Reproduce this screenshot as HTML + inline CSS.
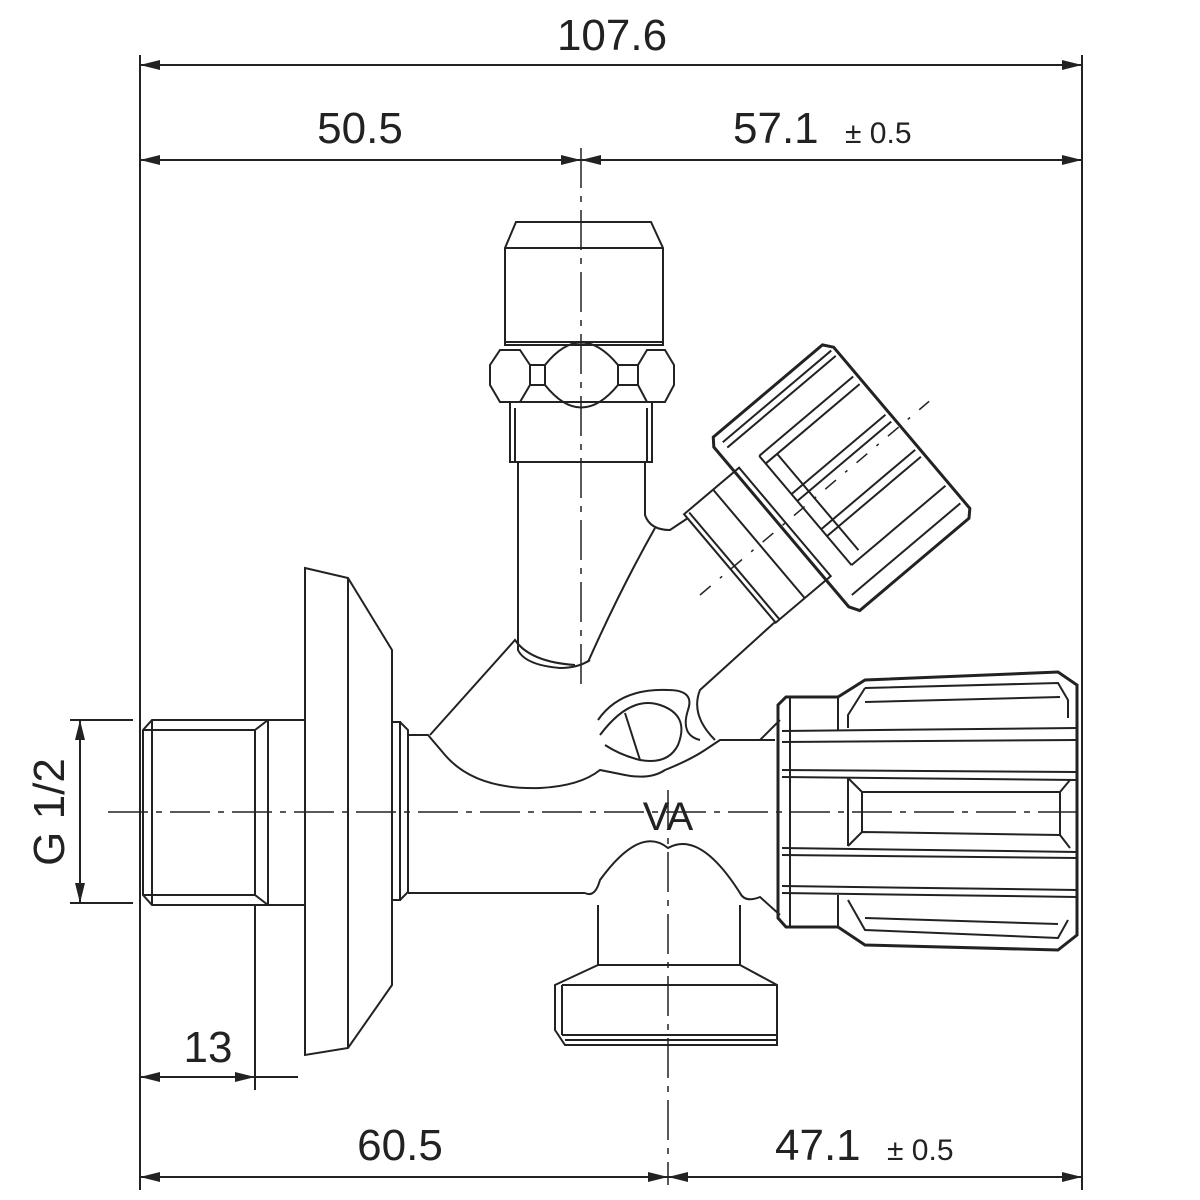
<!DOCTYPE html>
<html><head><meta charset="utf-8"><style>
html,body{margin:0;padding:0;background:#fff;}
svg{display:block}
text{font-family:"Liberation Sans","DejaVu Sans",sans-serif;fill:#222;}
</style></head><body>
<svg width="1200" height="1200" viewBox="0 0 1200 1200" xmlns="http://www.w3.org/2000/svg">
<defs>
<marker id="a" viewBox="0 0 20 10" refX="20" refY="5" markerWidth="20" markerHeight="10" orient="auto-start-reverse" markerUnits="userSpaceOnUse"><path d="M0,0 L20,5 L0,10 z" fill="#222"/></marker>
</defs>
<g stroke="#222" stroke-width="2" fill="none">
<line x1="140" y1="55" x2="140" y2="1190"/>
<line x1="1082" y1="55" x2="1082" y2="1190"/>
<line x1="255" y1="905" x2="255" y2="1090"/>
<line x1="70" y1="720" x2="133" y2="720"/>
<line x1="70" y1="903" x2="133" y2="903"/>
<line x1="140" y1="65" x2="1082" y2="65" marker-start="url(#a)" marker-end="url(#a)"/>
<line x1="140" y1="160" x2="581" y2="160" marker-start="url(#a)" marker-end="url(#a)"/>
<line x1="581" y1="160" x2="1082" y2="160" marker-start="url(#a)" marker-end="url(#a)"/>
<line x1="140" y1="1177" x2="668" y2="1177" marker-start="url(#a)" marker-end="url(#a)"/>
<line x1="668" y1="1177" x2="1082" y2="1177" marker-start="url(#a)" marker-end="url(#a)"/>
<line x1="140" y1="1077" x2="255" y2="1077" marker-start="url(#a)" marker-end="url(#a)"/>
<line x1="255" y1="1077" x2="298" y2="1077"/>
<line x1="80" y1="720" x2="80" y2="903" marker-start="url(#a)" marker-end="url(#a)"/>
<line x1="108" y1="812" x2="1082" y2="812" stroke-dasharray="40,8,6,8" stroke-width="1.5"/>
<line x1="581" y1="148" x2="581" y2="685" stroke-dasharray="40,8,6,8" stroke-width="1.5"/>
<line x1="668" y1="790" x2="668" y2="1185" stroke-dasharray="40,8,6,8" stroke-width="1.5"/>

<path d="M152,720 L268,720 L268,905 L152,905 L143,895 L143,730 Z"/>
<line x1="152" y1="720" x2="152" y2="905"/>
<line x1="143" y1="730" x2="255" y2="730"/><line x1="143" y1="895" x2="255" y2="895"/>
<line x1="255" y1="730" x2="255" y2="895"/>
<line x1="255" y1="730" x2="268" y2="720"/><line x1="255" y1="895" x2="268" y2="905"/>
<line x1="268" y1="720" x2="305" y2="720"/><line x1="268" y1="905" x2="305" y2="905"/>
<path d="M305,568 L348,578 L392,650 L392,985 L348,1048 L305,1055 Z"/>
<line x1="348" y1="578" x2="348" y2="1048"/>
<path d="M392,722 L400,722 L400,900 L392,900"/>
<path d="M400,722 L408,730 L408,892 L400,900"/>
<path d="M408,735 L428,735 L445,755 Q475,790 540,788 Q580,786 600,770 L625,775 Q650,780 665,770 Q690,760 705,750 L720,740 L775,740"/>
<path d="M430,735 L515,640 Q530,662 575,665"/>
<line x1="408" y1="893" x2="585" y2="893"/>
<path d="M585,893 Q595,898 600,880 Q640,825 668,848 Q700,830 740,893 Q745,903 760,897 L780,915"/>
<line x1="760" y1="740" x2="780" y2="720"/>
<path d="M598,720 Q620,688 668,690 Q695,690 688,710 Q680,735 700,740"/>
<path d="M600,735 Q630,695 660,705 Q690,715 678,745 Q668,765 640,760 Q620,755 605,745"/>
<line x1="625" y1="713" x2="640" y2="760"/>
<path d="M598,905 L598,965 M740,905 L740,965"/>
<line x1="598" y1="965" x2="740" y2="965"/>
<path d="M598,965 L555,985 L555,1030 L565,1045 L777,1045 L777,985 L740,965"/>
<line x1="562" y1="985" x2="777" y2="985"/>
<line x1="562" y1="985" x2="562" y2="1035"/>
<line x1="562" y1="1035" x2="777" y2="1035"/>
<line x1="565" y1="1040" x2="777" y2="1040"/>

<path d="M516,222 L651,222 L663,248 L663,345 L505,345 L505,248 Z"/>
<line x1="505" y1="248" x2="663" y2="248"/>
<line x1="505" y1="342" x2="663" y2="342"/>
<path d="M500,350 L520,350 L530,365 L530,385 L520,402 L500,402 L490,385 L490,365 Z"/>
<path d="M647,350 L665,350 L674,365 L674,385 L665,402 L647,402 L638,385 L638,365 Z"/>
<path d="M530,365 L545,365 Q581,320 618,365 L638,365 M530,385 L545,385 Q581,430 618,385 L638,385"/>
<line x1="545" y1="365" x2="545" y2="385"/><line x1="618" y1="365" x2="618" y2="385"/>
<line x1="500" y1="402" x2="665" y2="402"/>
<path d="M510,402 L510,462 L652,462 L652,402"/>
<line x1="515" y1="408" x2="515" y2="462"/><line x1="647" y1="408" x2="647" y2="462"/>
<path d="M518,462 L518,650 Q525,665 560,668 Q578,668 590,660"/>
<path d="M645,462 L645,515 Q650,530 670,530 L688,518"/>
<path d="M655,528 Q620,590 588,662"/>
<path d="M775,622 L700,690 Q690,715 715,740"/>

<g transform="translate(700,595) rotate(-40.2)">
<line x1="0" y1="0" x2="300" y2="0" stroke-dasharray="14,12,3,12" stroke-width="1.5"/>
<path d="M40,-72 L40,70 L112,70 L112,-72 Z"/>
<line x1="45" y1="-70" x2="45" y2="70"/>
<line x1="78" y1="-72" x2="78" y2="70"/>
<g stroke-width="3">
<path d="M112,-112 L255,-112 L262,-103 L262,108 L255,115 L112,115 L106,105 L106,-104 Z"/>
</g>
<line x1="116" y1="-102" x2="258" y2="-102"/>
<line x1="116" y1="-95" x2="258" y2="-95"/>
<line x1="135" y1="-68" x2="258" y2="-68"/>
<line x1="135" y1="-58" x2="258" y2="-58"/>
<line x1="135" y1="-18" x2="258" y2="-18"/>
<line x1="135" y1="-9" x2="258" y2="-9"/>
<line x1="135" y1="28" x2="258" y2="28"/>
<line x1="135" y1="37" x2="258" y2="37"/>
<line x1="135" y1="75" x2="258" y2="75"/>
<line x1="116" y1="98" x2="258" y2="98"/>
<line x1="135" y1="-68" x2="135" y2="75"/>
<line x1="150" y1="-58" x2="150" y2="68"/>
</g>

<g stroke-width="3">
<path d="M786,697 L838,697 L865,680 L1058,672 L1077,685 L1077,935 L1058,950 L865,945 L838,927 L786,927 L778,918 L778,705 Z"/>
</g>
<line x1="782" y1="731" x2="1077" y2="728"/>
<line x1="782" y1="742" x2="1077" y2="740"/>
<line x1="782" y1="770" x2="1077" y2="772"/>
<line x1="782" y1="777" x2="1077" y2="780"/>
<line x1="782" y1="848" x2="1077" y2="852"/>
<line x1="782" y1="855" x2="1077" y2="858"/>
<line x1="782" y1="886" x2="1077" y2="890"/>
<line x1="782" y1="893" x2="1077" y2="897"/>
<path d="M865,688 L1058,683 L1068,700 L1068,718 M865,688 L848,715 L848,728"/>
<line x1="865" y1="702" x2="1060" y2="697"/>
<path d="M848,778 L862,792 L1060,792 L1070,780 M848,846 L862,832 L1060,835 L1070,848"/>
<line x1="862" y1="792" x2="862" y2="832"/><line x1="1060" y1="792" x2="1060" y2="835"/>
<line x1="848" y1="778" x2="848" y2="846"/>
<path d="M848,900 L865,930 L1058,938 L1068,920"/>
<line x1="865" y1="918" x2="1058" y2="924"/>
<line x1="838" y1="697" x2="838" y2="730"/><line x1="838" y1="895" x2="838" y2="927"/>
<line x1="790" y1="697" x2="790" y2="927"/>
</g>
<g font-size="44">
<text x="612" y="50" text-anchor="middle">107.6</text>
<text x="360" y="143" text-anchor="middle">50.5</text>
<text x="733" y="143">57.1</text>
<text x="845" y="143" font-size="30">± 0.5</text>
<text x="400" y="1160" text-anchor="middle">60.5</text>
<text x="775" y="1160">47.1</text>
<text x="887" y="1160" font-size="30">± 0.5</text>
<text x="208" y="1062" text-anchor="middle">13</text>
<text transform="translate(64,812) rotate(-90)" text-anchor="middle">G 1/2</text>
<text x="668" y="830" text-anchor="middle" font-size="40">VA</text>
</g>
</svg>
</body></html>
